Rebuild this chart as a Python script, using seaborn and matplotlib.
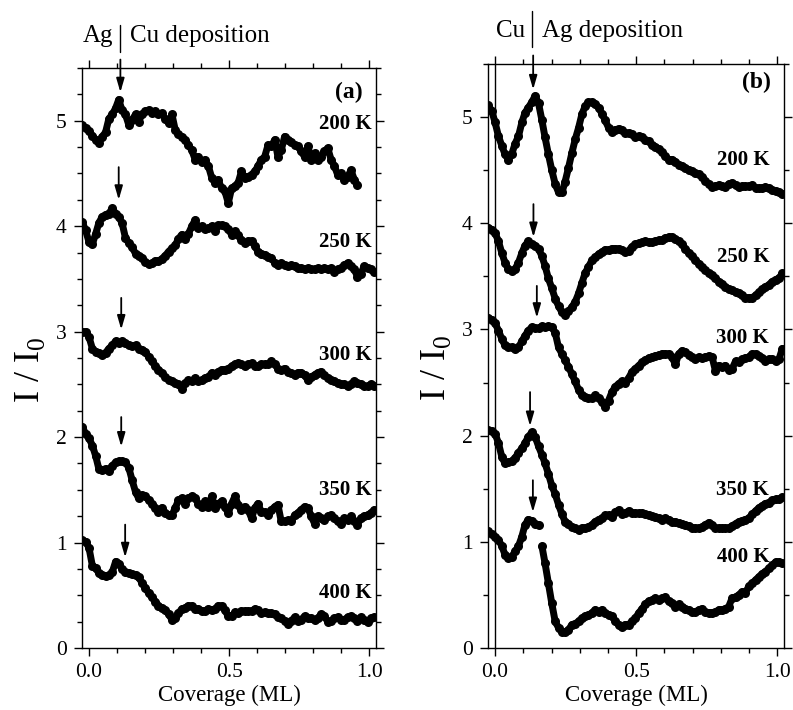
import numpy as np
import pandas as pd
import matplotlib
matplotlib.use("Agg")
import matplotlib.pyplot as plt
import seaborn as sns
from matplotlib.ticker import MultipleLocator

sns.set_style("ticks")
plt.rcParams["font.family"] = ["Liberation Serif", "DejaVu Serif"]
plt.rcParams["mathtext.fontset"] = "custom"
plt.rcParams["mathtext.rm"] = "Liberation Serif"
plt.rcParams["text.color"] = "black"
plt.rcParams["axes.labelcolor"] = "black"
plt.rcParams["axes.edgecolor"] = "black"
plt.rcParams["xtick.color"] = "black"
plt.rcParams["ytick.color"] = "black"

coverage = [-0.024, -0.012, 0.000, 0.012, 0.024, 0.035, 0.047, 0.059, 0.071, 0.083,
            0.095, 0.106, 0.118, 0.130, 0.142, 0.154, 0.166, 0.177, 0.189, 0.201,
            0.213, 0.225, 0.237, 0.248, 0.260, 0.272, 0.284, 0.296, 0.308, 0.319,
            0.331, 0.343, 0.355, 0.367, 0.379, 0.390, 0.402, 0.414, 0.426, 0.438,
            0.450, 0.461, 0.473, 0.485, 0.497, 0.509, 0.521, 0.532, 0.544, 0.556,
            0.568, 0.580, 0.592, 0.603, 0.615, 0.627, 0.639, 0.651, 0.663, 0.674,
            0.686, 0.698, 0.710, 0.722, 0.734, 0.745, 0.757, 0.769, 0.781, 0.793,
            0.805, 0.816, 0.828, 0.840, 0.852, 0.864, 0.876, 0.887, 0.899, 0.911,
            0.923, 0.935, 0.947, 0.958, 0.970, 0.982, 0.994, 1.006, 1.018]

temps = ["200 K", "250 K", "300 K", "350 K", "400 K"]

# (a) Ag on Cu
a200 = [4.96, 4.93, 4.90, 4.86, 4.82, 4.79, 4.85, 4.89, 5.02, 5.06,
        5.12, 5.20, 5.10, 5.06, 4.96, 5.01, 5.06, 4.99, 5.06, 5.09,
        5.10, 5.07, 5.09, 5.06, 5.07, 5.02, 4.98, 5.06, 4.91, 4.87,
        4.85, 4.82, 4.77, 4.72, 4.63, 4.66, 4.61, 4.63, 4.57, 4.46,
        4.41, 4.44, 4.36, 4.33, 4.22, 4.36, 4.38, 4.41, 4.52, 4.46,
        4.47, 4.49, 4.52, 4.57, 4.63, 4.66, 4.77, 4.76, 4.82, 4.66,
        4.72, 4.85, 4.82, 4.80, 4.77, 4.76, 4.71, 4.66, 4.76, 4.63,
        4.69, 4.63, 4.66, 4.71, 4.74, 4.63, 4.57, 4.49, 4.50, 4.44,
        4.47, 4.53, 4.44, 4.39]
a250 = [4.04, 3.96, 3.85, 3.83, 3.93, 4.03, 4.09, 4.11, 4.12, 4.17,
        4.12, 4.09, 4.03, 3.89, 3.84, 3.80, 3.74, 3.72, 3.70, 3.66,
        3.64, 3.65, 3.67, 3.67, 3.69, 3.72, 3.76, 3.79, 3.82, 3.88,
        3.92, 3.88, 3.93, 4.00, 4.06, 3.98, 4.00, 3.97, 3.98, 4.00,
        3.95, 4.01, 4.01, 4.00, 3.97, 3.92, 3.95, 3.92, 3.87, 3.84,
        3.86, 3.86, 3.81, 3.76, 3.74, 3.73, 3.71, 3.70, 3.65, 3.63,
        3.65, 3.63, 3.62, 3.63, 3.62, 3.60, 3.60, 3.59, 3.60, 3.59,
        3.59, 3.60, 3.59, 3.60, 3.59, 3.60, 3.57, 3.59, 3.60, 3.63,
        3.65, 3.62, 3.59, 3.52, 3.55, 3.62, 3.60, 3.59, 3.57]
a300 = [3.00, 3.00, 2.95, 2.84, 2.81, 2.80, 2.78, 2.80, 2.84, 2.87,
        2.91, 2.89, 2.91, 2.89, 2.87, 2.86, 2.87, 2.84, 2.83, 2.81,
        2.76, 2.72, 2.67, 2.64, 2.61, 2.57, 2.54, 2.53, 2.51, 2.50,
        2.46, 2.51, 2.54, 2.53, 2.56, 2.53, 2.54, 2.56, 2.57, 2.61,
        2.59, 2.62, 2.64, 2.64, 2.65, 2.67, 2.69, 2.70, 2.69, 2.67,
        2.69, 2.70, 2.67, 2.67, 2.69, 2.69, 2.69, 2.72, 2.69, 2.65,
        2.64, 2.65, 2.62, 2.61, 2.59, 2.61, 2.61, 2.59, 2.54, 2.57,
        2.59, 2.61, 2.62, 2.59, 2.56, 2.54, 2.53, 2.51, 2.50, 2.50,
        2.48, 2.50, 2.53, 2.51, 2.50, 2.48, 2.48, 2.50, 2.48]
a350 = [2.10, 2.03, 1.99, 1.92, 1.82, 1.70, 1.69, 1.70, 1.68, 1.73,
        1.76, 1.77, 1.77, 1.76, 1.71, 1.59, 1.48, 1.42, 1.45, 1.44,
        1.40, 1.37, 1.33, 1.29, 1.33, 1.28, 1.26, 1.26, 1.33, 1.40,
        1.42, 1.37, 1.42, 1.44, 1.42, 1.37, 1.34, 1.39, 1.34, 1.44,
        1.33, 1.37, 1.39, 1.34, 1.28, 1.37, 1.44, 1.36, 1.31, 1.34,
        1.31, 1.23, 1.33, 1.37, 1.29, 1.29, 1.26, 1.31, 1.34, 1.36,
        1.20, 1.20, 1.21, 1.20, 1.26, 1.28, 1.31, 1.34, 1.33, 1.25,
        1.18, 1.25, 1.23, 1.21, 1.25, 1.26, 1.23, 1.20, 1.18, 1.23,
        1.21, 1.25, 1.20, 1.17, 1.23, 1.25, 1.26, 1.28, 1.31]
a400 = [1.02, 1.01, 0.95, 0.78, 0.76, 0.71, 0.69, 0.68, 0.69, 0.72,
        0.82, 0.80, 0.75, 0.72, 0.71, 0.70, 0.69, 0.67, 0.62, 0.57,
        0.52, 0.48, 0.44, 0.40, 0.38, 0.36, 0.32, 0.27, 0.28, 0.33,
        0.37, 0.38, 0.40, 0.40, 0.37, 0.37, 0.35, 0.35, 0.37, 0.36,
        0.37, 0.40, 0.40, 0.36, 0.30, 0.30, 0.34, 0.33, 0.35, 0.35,
        0.35, 0.35, 0.37, 0.36, 0.33, 0.34, 0.33, 0.33, 0.32, 0.29,
        0.28, 0.26, 0.23, 0.26, 0.29, 0.26, 0.27, 0.30, 0.28, 0.28,
        0.27, 0.28, 0.32, 0.30, 0.25, 0.26, 0.28, 0.29, 0.27, 0.27,
        0.29, 0.30, 0.28, 0.26, 0.29, 0.27, 0.25, 0.28, 0.29]

# (b) Cu on Ag
b200 = [5.11, 5.06, 4.95, 4.82, 4.73, 4.65, 4.60, 4.65, 4.75, 4.82,
        4.95, 5.04, 5.09, 5.14, 5.20, 5.13, 4.97, 4.81, 4.65, 4.50,
        4.37, 4.29, 4.29, 4.39, 4.52, 4.66, 4.79, 4.90, 5.03, 5.10,
        5.14, 5.14, 5.12, 5.09, 5.03, 4.97, 4.90, 4.86, 4.88, 4.89,
        4.88, 4.85, 4.85, 4.84, 4.81, 4.82, 4.81, 4.78, 4.77, 4.74,
        4.72, 4.70, 4.67, 4.63, 4.60, 4.60, 4.58, 4.55, 4.54, 4.52,
        4.50, 4.49, 4.47, 4.46, 4.44, 4.40, 4.37, 4.34, 4.35, 4.36,
        4.35, 4.34, 4.37, 4.38, 4.36, 4.34, 4.35, 4.35, 4.35, 4.36,
        4.33, 4.33, 4.33, 4.34, 4.33, 4.31, 4.30, 4.29, 4.28]
b250 = [3.96, 3.94, 3.91, 3.83, 3.72, 3.63, 3.57, 3.55, 3.57, 3.63,
        3.72, 3.79, 3.83, 3.80, 3.79, 3.76, 3.69, 3.60, 3.48, 3.39,
        3.29, 3.22, 3.16, 3.14, 3.17, 3.21, 3.26, 3.34, 3.44, 3.53,
        3.59, 3.65, 3.68, 3.71, 3.73, 3.75, 3.75, 3.76, 3.76, 3.76,
        3.75, 3.73, 3.74, 3.78, 3.80, 3.81, 3.82, 3.83, 3.82, 3.82,
        3.83, 3.84, 3.84, 3.86, 3.87, 3.87, 3.85, 3.83, 3.80, 3.76,
        3.72, 3.69, 3.65, 3.62, 3.59, 3.56, 3.53, 3.51, 3.48, 3.45,
        3.43, 3.40, 3.38, 3.37, 3.35, 3.34, 3.32, 3.30, 3.30, 3.30,
        3.32, 3.35, 3.38, 3.40, 3.42, 3.45, 3.47, 3.48, 3.53]
b300 = [3.11, 3.09, 3.06, 2.99, 2.91, 2.85, 2.83, 2.83, 2.82, 2.83,
        2.89, 2.94, 2.99, 3.02, 3.01, 3.01, 3.03, 3.02, 3.03, 3.02,
        2.97, 2.83, 2.77, 2.71, 2.65, 2.58, 2.51, 2.43, 2.38, 2.36,
        2.35, 2.35, 2.38, 2.35, 2.32, 2.27, 2.33, 2.41, 2.46, 2.49,
        2.51, 2.50, 2.54, 2.60, 2.63, 2.66, 2.69, 2.71, 2.73, 2.74,
        2.75, 2.76, 2.77, 2.77, 2.77, 2.74, 2.67, 2.77, 2.80, 2.79,
        2.76, 2.74, 2.72, 2.74, 2.73, 2.74, 2.75, 2.74, 2.61, 2.66,
        2.65, 2.66, 2.62, 2.63, 2.70, 2.69, 2.72, 2.73, 2.74, 2.77,
        2.77, 2.75, 2.73, 2.70, 2.72, 2.72, 2.70, 2.72, 2.82]
b350 = [2.05, 2.04, 2.02, 1.93, 1.80, 1.74, 1.75, 1.76, 1.79, 1.84,
        1.88, 1.93, 1.99, 2.03, 1.99, 1.90, 1.82, 1.74, 1.64, 1.53,
        1.45, 1.35, 1.26, 1.19, 1.17, 1.14, 1.13, 1.11, 1.13, 1.13,
        1.14, 1.16, 1.19, 1.21, 1.22, 1.25, 1.25, 1.23, 1.28, 1.30,
        1.26, 1.27, 1.29, 1.27, 1.27, 1.27, 1.27, 1.26, 1.25, 1.24,
        1.23, 1.22, 1.21, 1.22, 1.21, 1.19, 1.19, 1.18, 1.17, 1.16,
        1.15, 1.13, 1.13, 1.13, 1.14, 1.16, 1.18, 1.16, 1.13, 1.13,
        1.13, 1.13, 1.13, 1.15, 1.17, 1.19, 1.20, 1.21, 1.22, 1.26,
        1.29, 1.32, 1.34, 1.36, 1.37, 1.39, 1.40, 1.40, 1.42]
b400 = [1.10, 1.07, 1.05, 1.02, 0.96, 0.88, 0.85, 0.86, 0.91, 0.96,
        1.05, 1.16, 1.21, 1.20, 1.17, 1.16, 0.96, 0.80, 0.61, 0.42,
        0.25, 0.19, 0.15, 0.15, 0.17, 0.22, 0.23, 0.25, 0.28, 0.30,
        0.31, 0.33, 0.36, 0.34, 0.36, 0.33, 0.31, 0.30, 0.25, 0.22,
        0.20, 0.22, 0.22, 0.25, 0.28, 0.33, 0.37, 0.41, 0.44, 0.45,
        0.47, 0.45, 0.47, 0.48, 0.44, 0.42, 0.39, 0.41, 0.39, 0.37,
        0.36, 0.34, 0.34, 0.36, 0.37, 0.34, 0.33, 0.33, 0.34, 0.36,
        0.36, 0.37, 0.39, 0.47, 0.48, 0.50, 0.53, 0.52, 0.58, 0.61,
        0.64, 0.67, 0.70, 0.72, 0.75, 0.78, 0.81, 0.81, 0.80]
b400_gap = 16  # data break after the small peak

# arrows marking the peak (x, tail y, tip y)
arrow_a_x = [0.112, 0.106, 0.115, 0.115, 0.129]
arrow_a_top = [5.58, 4.56, 3.32, 2.19, 1.17]
arrow_a_tip = [5.27, 4.25, 3.02, 1.91, 0.86]
arrow_b_x = [0.135, 0.136, 0.148, 0.124, 0.134]
arrow_b_top = [5.58, 4.18, 3.41, 2.41, 1.58]
arrow_b_tip = [5.26, 3.87, 3.11, 2.09, 1.28]

label_a_y = [4.97, 3.85, 2.78, 1.50, 0.52]
label_b_y = [4.60, 3.68, 2.92, 1.49, 0.86]

fig = plt.figure(figsize=(7.93, 7.10), dpi=100)
ax_a = fig.add_axes([0.1034, 0.0873, 0.3707, 0.8169])
ax_b = fig.add_axes([0.6154, 0.0873, 0.3733, 0.8226])


def draw_curve(ax, y, start=0):
    d = pd.DataFrame({"x": coverage[start:start + len(y)], "y": y})
    sns.lineplot(data=d, x="x", y="y", ax=ax, color="black", lw=5,
                 marker="o", markersize=6.5, markeredgewidth=0,
                 sort=False, estimator=None)


for y in [a200, a250, a300, a350, a400]:
    draw_curve(ax_a, y)
for y in [b200, b250, b300, b350]:
    draw_curve(ax_b, y)
draw_curve(ax_b, b400[:b400_gap])
draw_curve(ax_b, b400[b400_gap:], start=b400_gap)

ax_b.axvline(0.0, color="black", lw=1)

panels = [(ax_a, arrow_a_x, arrow_a_top, arrow_a_tip, label_a_y, 0.986, "(a)", 0.25),
          (ax_b, arrow_b_x, arrow_b_top, arrow_b_tip, label_b_y, 0.95, "(b)", 0.5)]
for ax, ax_x, tops, tips, lab_y, lab_x, tag, yminor in panels:
    for i in range(5):
        ax.annotate("", xy=(ax_x[i], tips[i]), xytext=(ax_x[i], tops[i]),
                    arrowprops=dict(arrowstyle="-|>,head_length=0.55,head_width=0.16",
                                    color="black", lw=1.3, shrinkA=0, shrinkB=0,
                                    mutation_scale=15),
                    annotation_clip=False)
        ax.text(lab_x, lab_y[i], temps[i], transform=ax.get_yaxis_transform(),
                ha="right", va="center", fontsize=15, fontweight="bold")
    ax.set_xlim(-0.025, 1.024)
    ax.set_ylim(0, 5.5)
    ax.xaxis.set_major_locator(MultipleLocator(0.5))
    ax.xaxis.set_minor_locator(MultipleLocator(0.1))
    ax.yaxis.set_major_locator(MultipleLocator(1))
    ax.yaxis.set_minor_locator(MultipleLocator(yminor))
    ax.xaxis.set_major_formatter(matplotlib.ticker.FormatStrFormatter("%.1f"))
    ax.tick_params(which="both", direction="out", top=True, right=True,
                   width=1, labelsize=15.5, pad=5, colors="black")
    ax.tick_params(which="major", length=6)
    ax.tick_params(which="minor", length=3.5)
    for s in ax.spines.values():
        s.set_linewidth(1)
        s.set_visible(True)
        s.set_color("black")
    ax.set_xlabel("Coverage (ML)", fontsize=16.5, labelpad=2)
    ax.set_ylabel(r"I / I$_{\mathregular{0}}$", fontsize=26, labelpad=0)
    ax.text(0.955, 5.27 if tag == "(a)" else 5.33, tag, transform=ax.get_yaxis_transform(),
            ha="right", va="center", fontsize=17, fontweight="bold")

ax_a.yaxis.set_label_coords(-0.12, 0.48)
ax_b.yaxis.set_label_coords(-0.118, 0.48)

# deposition headers above the panels
for ax, sep_x, sep_lo, sep_hi, left, right in [
        (ax_a, 0.112, 5.65, 5.91, "Ag", "Cu deposition"),
        (ax_b, 0.131, 5.66, 6.00, "Cu", "Ag deposition")]:
    ax.plot([sep_x, sep_x], [sep_lo, sep_hi], color="black", lw=1, clip_on=False)
    ax.annotate(left, xy=(sep_x, 5.75), xytext=(-5, 0), textcoords="offset points",
                ha="right", va="baseline", fontsize=18, annotation_clip=False)
    ax.annotate(right, xy=(sep_x, 5.75), xytext=(7, 0), textcoords="offset points",
                ha="left", va="baseline", fontsize=18, annotation_clip=False)

fig.savefig("out.png", dpi=100)
